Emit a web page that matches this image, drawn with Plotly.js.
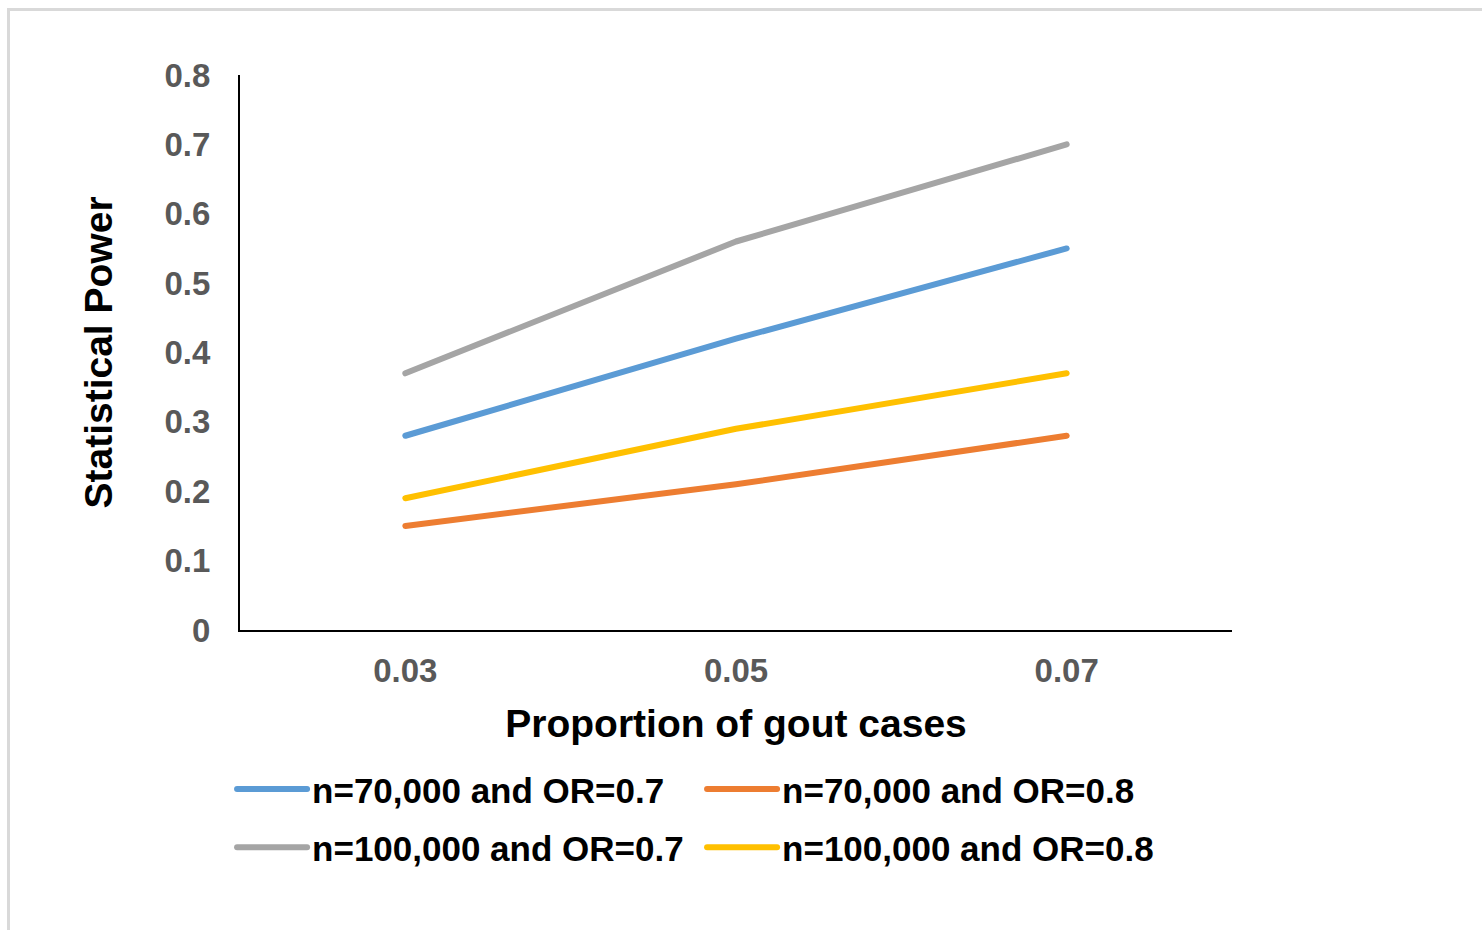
<!DOCTYPE html>
<html><head><meta charset="utf-8">
<script src="https://cdn.plot.ly/plotly-3.0.1.min.js"></script>
<style>
html,body{margin:0;padding:0;background:#fff;}
#frame{position:absolute;left:7px;top:8px;width:1500px;height:1000px;border-left:3px solid #d9d9d9;border-top:3px solid #d9d9d9;pointer-events:none;}
#chart{position:absolute;left:0;top:0;width:1482px;height:930px;}
#chart .js-line{stroke-linecap:round;stroke-linejoin:round;}
</style></head>
<body>
<div id="chart"></div>
<div id="frame"></div>
<script>
const categories = ['0.03', '0.05', '0.07'];
const seriesNames = ['n=70,000 and OR=0.7', 'n=70,000 and OR=0.8', 'n=100,000 and OR=0.7', 'n=100,000 and OR=0.8'];
const n70_or07 = [0.28, 0.42, 0.55];
const n70_or08 = [0.15, 0.21, 0.28];
const n100_or07 = [0.37, 0.56, 0.70];
const n100_or08 = [0.19, 0.29, 0.37];
const yTicks = [0, 0.1, 0.2, 0.3, 0.4, 0.5, 0.6, 0.7, 0.8];

const colors = ['#5b9bd5', '#ed7d31', '#a5a5a5', '#ffc000'];
const values = [n70_or07, n70_or08, n100_or07, n100_or08];
const legends = ['legend', 'legend', 'legend2', 'legend2'];
const font = 'Liberation Sans, Arial, sans-serif';

const traces = values.map((v, i) => ({
  type: 'scatter', mode: 'lines', x: categories, y: v, name: seriesNames[i],
  line: {color: colors[i], width: 6}, legend: legends[i], hoverinfo: 'skip'
}));

const legendCommon = {
  orientation: 'h', xanchor: 'left', yanchor: 'middle', x: -0.008,
  entrywidth: 385, entrywidthmode: 'pixels', itemwidth: 70,
  font: {family: font, size: 35, color: '#000', weight: 'bold'},
  bgcolor: 'rgba(0,0,0,0)', borderwidth: 0, traceorder: 'normal'
};

const layout = {
  width: 1482, height: 930,
  margin: {l: 240, r: 250, t: 75, b: 300},
  paper_bgcolor: '#fff', plot_bgcolor: '#fff',
  font: {family: font},
  showlegend: true,
  xaxis: {
    type: 'category', range: [-0.5, 2.5], showgrid: false, zeroline: false,
    showline: true, linecolor: '#000', linewidth: 2, ticks: '',
    tickfont: {family: font, size: 33, color: '#595959', weight: 'bold'},
    ticklabelstandoff: 10,
    title: {text: 'Proportion of gout cases', font: {family: font, size: 39, color: '#000', weight: 'bold'}, standoff: 22}
  },
  yaxis: {
    range: [0, 0.8], tickvals: yTicks, ticktext: yTicks.map(String), showgrid: false, zeroline: false,
    showline: true, linecolor: '#000', linewidth: 2, ticks: '',
    tickfont: {family: font, size: 33, color: '#595959', weight: 'bold'},
    ticklabelstandoff: 21,
    title: {text: 'Statistical Power', font: {family: font, size: 39, color: '#000', weight: 'bold'}, standoff: 40}
  },
  legend: Object.assign({}, legendCommon, {y: -0.287}),
  legend2: Object.assign({}, legendCommon, {y: -0.392})
};

Plotly.newPlot('chart', traces, layout, {displayModeBar: false, staticPlot: true});
</script>
</body></html>
